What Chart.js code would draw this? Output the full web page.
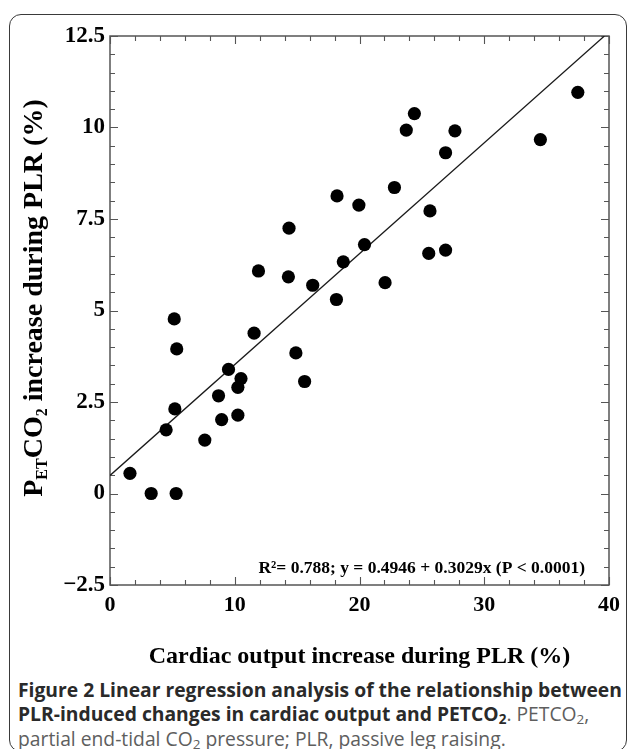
<!DOCTYPE html>
<html>
<head>
<meta charset="utf-8">
<script src="https://cdn.jsdelivr.net/npm/chart.js@4.4.1/dist/chart.umd.min.js"></script>
<style>
  html, body { margin: 0; padding: 0; background: #fff; }
  body { width: 629px; height: 749px; position: relative; overflow: hidden; }
  #frame { position: absolute; left: 9px; top: 14px; width: 618px; height: 738px; border: 1.5px solid #3a3a3a; border-radius: 12px; box-sizing: border-box; }
  #chart { position: absolute; left: 0; top: 0; }
  #caption { position: absolute; left: 18px; top: 678px; font-family: "Open Sans", sans-serif; font-size: 19.3px; line-height: 24.3px; color: #5e5e5e; white-space: nowrap; }
  #caption b { color: #2a2a2a; }
  #caption sub { font-size: 0.7em; line-height: 0; vertical-align: -0.25em; }
</style>
</head>
<body>
<div id="frame"></div>
<canvas id="chart" width="629" height="675"></canvas>
<div id="caption"><b>Figure 2 Linear regression analysis of the relationship between<br>PLR-induced changes in cardiac output and PETCO<sub>2</sub></b>. PETCO<sub>2</sub>,<br>partial end-tidal CO<sub>2</sub> pressure; PLR, passive leg raising.</div>
<script>
// values (cardiac output % vs PETCO2 %)
const cardiacOutput = [1.6, 3.3, 5.3, 4.5, 5.2, 5.15, 5.35, 7.6, 8.7, 8.95, 9.5, 10.25, 10.5, 10.25, 11.55, 11.9, 14.3, 14.35, 14.9, 15.6, 16.25, 18.15, 18.2, 18.7, 19.95, 20.4, 22.05, 22.8, 23.75, 24.4, 25.65, 25.55, 26.9, 26.9, 27.65, 34.5, 37.5];
const petco2 = [0.55, 0, 0, 1.74, 2.31, 4.77, 3.95, 1.46, 2.67, 2.02, 3.39, 2.9, 3.14, 2.14, 4.38, 6.08, 5.92, 7.25, 3.84, 3.06, 5.69, 5.3, 8.13, 6.33, 7.88, 6.8, 5.76, 8.36, 9.93, 10.38, 7.72, 6.56, 6.65, 9.31, 9.91, 9.67, 10.96];

// regression from the figure text
const fitIntercept = 0.4946;
const fitSlope = 0.3029;
const fitRange = [0, 39.63];
const fitLabel = 'R\u00B2= 0.788; y = 0.4946 + 0.3029x (P < 0.0001)';

// axes
const xTicks = [0, 10, 20, 30, 40];
const yTicks = [-2.5, 0, 2.5, 5, 7.5, 10, 12.5];
const xMinorStep = 2;
const yMinorStep = 0.5;
const xTitle = 'Cardiac output increase during PLR (%)';
const yTitleParts = [
    { text: 'P', sub: false },
    { text: 'ET', sub: true },
    { text: 'CO', sub: false },
    { text: '2', sub: true },
    { text: ' increase during PLR (%)', sub: false }
];

const serif = '"Liberation Serif", "Times New Roman", serif';

// frame with inward ticks on all four sides
const frameTicks = {
    id: 'frameTicks',
    beforeDatasetsDraw(chart) {
        const { ctx, chartArea: a, scales: { x, y } } = chart;
        ctx.save();
        ctx.strokeStyle = '#555';
        ctx.lineWidth = 1.5;
        ctx.strokeRect(a.left, a.top, a.right - a.left, a.bottom - a.top);
        ctx.lineWidth = 1.1;
        ctx.beginPath();
        for (let v = x.min; v <= x.max + 1e-9; v += xMinorStep) {
            const px = Math.round(x.getPixelForValue(v)) + 0.5;
            const len = xTicks.includes(v) ? 8 : 5;
            ctx.moveTo(px, a.bottom); ctx.lineTo(px, a.bottom - len);
            ctx.moveTo(px, a.top); ctx.lineTo(px, a.top + len);
        }
        for (let v = y.min; v <= y.max + 1e-9; v += yMinorStep) {
            const py = Math.round(y.getPixelForValue(v)) + 0.5;
            const len = yTicks.includes(v) ? 8 : 5;
            ctx.moveTo(a.left, py); ctx.lineTo(a.left + len, py);
            ctx.moveTo(a.right, py); ctx.lineTo(a.right - len, py);
        }
        ctx.stroke();
        ctx.restore();
    },
    afterDraw(chart) {
        const { ctx, chartArea: a } = chart;
        ctx.save();
        ctx.fillStyle = '#000';
        // regression note
        ctx.font = 'bold 17.5px ' + serif;
        ctx.textAlign = 'right';
        ctx.textBaseline = 'alphabetic';
        ctx.fillText(fitLabel, a.right - 24, a.bottom - 12);

        // y title with subscripts, rotated
        const big = 'bold 28px ' + serif;
        const small = 'bold 16px ' + serif;
        let total = 0;
        yTitleParts.forEach(p => {
            ctx.font = p.sub ? small : big;
            total += ctx.measureText(p.text).width;
        });
        ctx.translate(42, 298);
        ctx.rotate(-Math.PI / 2);
        ctx.textAlign = 'left';
        let cx = -total / 2;
        yTitleParts.forEach(p => {
            ctx.font = p.sub ? small : big;
            ctx.fillText(p.text, cx, p.sub ? 5 : 0);
            cx += ctx.measureText(p.text).width;
        });
        ctx.restore();
    }
};

const ctx = document.getElementById('chart').getContext('2d');
new Chart(ctx, {
    type: 'scatter',
    data: {
        datasets: [{
            label: 'PLR',
            data: cardiacOutput.map((v, i) => ({ x: v, y: petco2[i] })),
            backgroundColor: '#000',
            borderWidth: 0,
            pointRadius: 6.6,
            pointHoverRadius: 6.6
        }, {
            type: 'line',
            label: 'fit',
            data: fitRange.map(v => ({ x: v, y: fitIntercept + fitSlope * v })),
            borderColor: '#1a1a1a',
            borderWidth: 1.3,
            pointRadius: 0,
            fill: false
        }]
    },
    plugins: [frameTicks],
    options: {
        responsive: false,
        animation: false,
        devicePixelRatio: 1,
        layout: { padding: { left: 0, right: 20, top: 36, bottom: 0 } },
        plugins: { legend: { display: false }, tooltip: { enabled: false } },
        scales: {
            x: {
                type: 'linear',
                min: 0,
                max: 40,
                afterFit: s => { s.height = 90; },
                afterBuildTicks: s => { s.ticks = xTicks.map(v => ({ value: v })); },
                grid: { display: false, drawTicks: false },
                border: { display: false },
                ticks: {
                    autoSkip: false,
                    maxRotation: 0,
                    padding: 7,
                    color: '#000',
                    font: { family: serif, size: 22, weight: 'bold' }
                },
                title: {
                    display: true,
                    text: xTitle,
                    color: '#000',
                    padding: { top: 0, bottom: 4 },
                    font: { family: serif, size: 24, weight: 'bold' }
                }
            },
            y: {
                type: 'linear',
                min: -2.5,
                max: 12.5,
                afterFit: s => { s.width = 110; },
                afterBuildTicks: s => { s.ticks = yTicks.map(v => ({ value: v })); },
                grid: { display: false, drawTicks: false },
                border: { display: false },
                ticks: {
                    autoSkip: false,
                    padding: 5,
                    color: '#000',
                    font: { family: serif, size: 23, weight: 'bold' },
                    callback: v => (v < 0 ? '\u2212' + Math.abs(v) : String(v))
                }
            }
        }
    }
});
</script>
</body>
</html>
